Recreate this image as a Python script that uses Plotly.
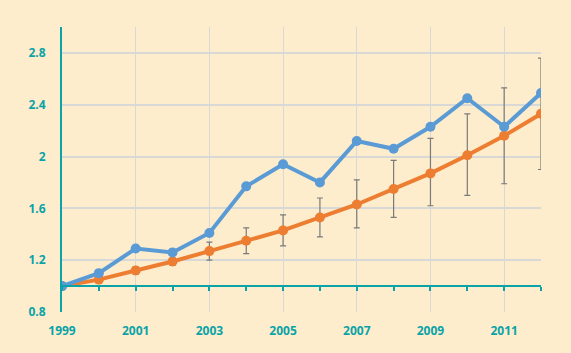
import plotly.graph_objects as go

years = list(range(1999, 2013))
blue_vals = [1.00, 1.10, 1.29, 1.26, 1.41, 1.77, 1.94, 1.80, 2.12, 2.06, 2.23, 2.45, 2.23, 2.49]
orange_vals = [1.00, 1.05, 1.12, 1.19, 1.27, 1.35, 1.43, 1.53, 1.63, 1.75, 1.87, 2.01, 2.16, 2.33]
err_plus = [0.0, 0.0, 0.03, 0.03, 0.07, 0.10, 0.12, 0.15, 0.19, 0.22, 0.27, 0.32, 0.37, 0.43]
err_minus = [0.0, 0.0, 0.03, 0.03, 0.07, 0.10, 0.12, 0.15, 0.18, 0.22, 0.25, 0.31, 0.37, 0.43]
y_ticks = [0.8, 1.2, 1.6, 2.0, 2.4, 2.8]
y_labels = ["0.8", "1.2", "1.6", "2", "2.4", "2.8"]
x_ticks = [1999, 2001, 2003, 2005, 2007, 2009, 2011]

BG = "#FDEDCD"
TEAL = "#0AA3A8"
GRID = "#D8D8D6"
BLUE = "#5B9BD5"
ORANGE = "#ED7D31"

fig = go.Figure()

# invisible trace to carry the baseline axis
fig.add_trace(go.Scatter(x=years, y=[1.0] * len(years), xaxis="x2", yaxis="y",
                         mode="lines", line=dict(width=0), hoverinfo="skip",
                         showlegend=False))

fig.add_trace(go.Scatter(
    x=years, y=orange_vals, mode="lines+markers",
    line=dict(color=ORANGE, width=4), marker=dict(color=ORANGE, size=10),
    error_y=dict(type="data", array=err_plus, arrayminus=err_minus,
                 color="#7A7A7A", thickness=1.2, width=3),
    showlegend=False))

fig.add_trace(go.Scatter(
    x=years, y=blue_vals, mode="lines+markers",
    line=dict(color=BLUE, width=4), marker=dict(color=BLUE, size=10),
    showlegend=False))

font = dict(family="Open Sans", size=12, color=TEAL, weight="bold")

fig.update_layout(
    width=571, height=353,
    margin=dict(l=62, r=30, t=27, b=41),
    paper_bgcolor=BG, plot_bgcolor=BG,
    xaxis=dict(range=[1999, 2012], tickvals=x_ticks, ticktext=[str(v) for v in x_ticks],
               showgrid=True, gridcolor=GRID, gridwidth=1, zeroline=False,
               showline=False, ticks="", tickfont=font, ticklabelstandoff=10),
    xaxis2=dict(range=[1999, 2012], overlaying="x", anchor="free",
                position=(1.0 - 0.8) / (3.0 - 0.8), side="bottom",
                tickvals=years, showticklabels=False, ticks="outside",
                ticklen=4, tickwidth=1.5, tickcolor=TEAL,
                showline=True, linecolor=TEAL, linewidth=2,
                showgrid=False, zeroline=False),
    yaxis=dict(range=[0.8, 3.0], tickvals=y_ticks, ticktext=y_labels,
               showgrid=True, gridcolor=GRID, gridwidth=1.5, zeroline=False,
               showline=True, linecolor=TEAL, linewidth=2, ticks="",
               tickfont=font, ticklabelstandoff=12),
)

fig.write_html("out.html")
